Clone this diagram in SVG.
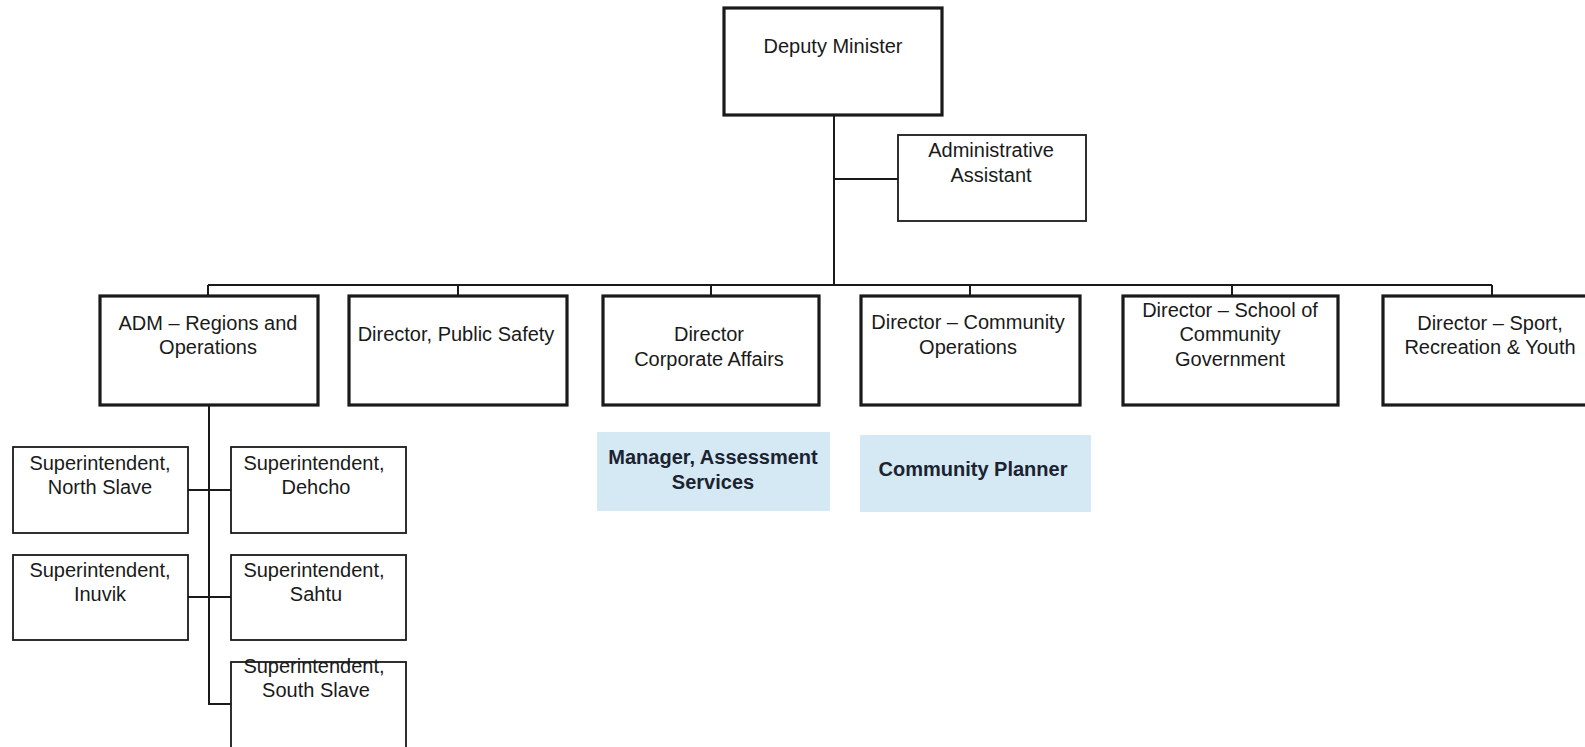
<svg xmlns="http://www.w3.org/2000/svg" width="1585" height="747" viewBox="0 0 1585 747">
<style>
text{font-family:"Liberation Sans",Arial,sans-serif;font-size:20px;fill:#1a1a1a;text-anchor:middle}
.b{font-weight:bold;fill:#1c2330}
.thick{fill:#fff;stroke:#1a1a1a;stroke-width:3.2}
.thin{fill:#fff;stroke:#1a1a1a;stroke-width:1.8}
.blue{fill:#d4e9f4;stroke:none}
.con{stroke:#1a1a1a;stroke-width:2;fill:none}
</style>
<g id="connectors" class="con">
<path d="M834,115V285"/>
<path d="M834,179H898"/>
<path d="M208,285H1492"/>
<path d="M208,285V296M458,285V296M711,285V296M970,285V296M1232,285V296M1492,285V296"/>
<path d="M209,405V704H231"/>
<path d="M188,490H231"/>
<path d="M188,597H231"/>
</g>
<g id="deputy-minister"><rect class="thick" x="724" y="8" width="218" height="107"/><text x="833" y="53">Deputy Minister</text></g>
<g id="admin-assistant"><rect class="thin" x="898" y="135" width="188" height="86"/><text x="991" y="157">Administrative</text><text x="991" y="182">Assistant</text></g>
<g id="adm-regions"><rect class="thick" x="100" y="296" width="218" height="109"/><text x="208" y="330">ADM – Regions and</text><text x="208" y="354">Operations</text></g>
<g id="dir-public-safety"><rect class="thick" x="349" y="296" width="218" height="109"/><text x="456" y="341">Director, Public Safety</text></g>
<g id="dir-corporate"><rect class="thick" x="603" y="296" width="216" height="109"/><text x="709" y="341">Director</text><text x="709" y="366">Corporate Affairs</text></g>
<g id="dir-community-ops"><rect class="thick" x="861" y="296" width="219" height="109"/><text x="968" y="329">Director – Community</text><text x="968" y="354">Operations</text></g>
<g id="dir-school"><rect class="thick" x="1123" y="296" width="215" height="109"/><text x="1230" y="317">Director – School of</text><text x="1230" y="341">Community</text><text x="1230" y="366">Government</text></g>
<g id="dir-sport"><rect class="thick" x="1383" y="296" width="220" height="109"/><text x="1490" y="330">Director – Sport,</text><text x="1490" y="354">Recreation &amp; Youth</text></g>
<g id="manager-assessment"><rect class="blue" x="597" y="432" width="233" height="79"/><text class="b" x="713" y="464">Manager, Assessment</text><text class="b" x="713" y="489">Services</text></g>
<g id="community-planner"><rect class="blue" x="860" y="435" width="231" height="77"/><text class="b" x="973" y="476">Community Planner</text></g>
<g id="sup-north-slave"><rect class="thin" x="13" y="447" width="175" height="86"/><text x="100" y="470">Superintendent,</text><text x="100" y="494">North Slave</text></g>
<g id="sup-dehcho"><rect class="thin" x="231" y="447" width="175" height="86"/><text x="314" y="470">Superintendent,</text><text x="316" y="494">Dehcho</text></g>
<g id="sup-inuvik"><rect class="thin" x="13" y="555" width="175" height="85"/><text x="100" y="577">Superintendent,</text><text x="100" y="601">Inuvik</text></g>
<g id="sup-sahtu"><rect class="thin" x="231" y="555" width="175" height="85"/><text x="314" y="577">Superintendent,</text><text x="316" y="601">Sahtu</text></g>
<g id="sup-south-slave"><rect class="thin" x="231" y="662" width="175" height="100"/><text x="314" y="673">Superintendent,</text><text x="316" y="697">South Slave</text></g>
</svg>
